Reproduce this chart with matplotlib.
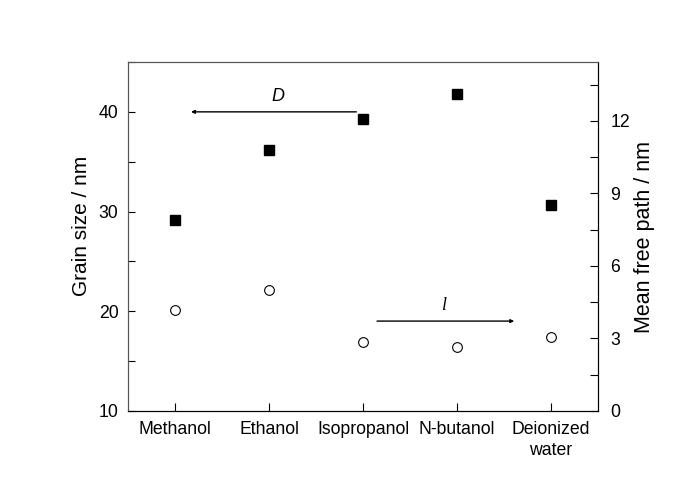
import matplotlib
matplotlib.use("Agg")
import matplotlib.pyplot as plt
from matplotlib.ticker import MultipleLocator

plt.rcParams['font.family'] = ['Liberation Sans', 'DejaVu Sans']

categories = ["Methanol", "Ethanol", "Isopropanol", "N-butanol", "Deionized\nwater"]
grain_size = [29.2, 36.2, 39.3, 41.8, 30.7]
mean_free_path = [4.18, 5.02, 2.84, 2.63, 3.05]

fig = plt.figure(figsize=(7.0, 4.98), dpi=100)
ax = fig.add_axes([0.183, 0.1747, 0.671, 0.7008])
ax2 = ax.twinx()

x = list(range(len(categories)))
ax.plot(x, grain_size, linestyle='none', marker='s', markersize=7,
        color='black', markeredgecolor='black')
ax2.plot(x, mean_free_path, linestyle='none', marker='o', markersize=7,
         markerfacecolor='white', markeredgecolor='black', markeredgewidth=0.8)

ax.set_xlim(-0.5, 4.5)
ax.set_ylim(10, 45)
ax2.set_ylim(0, 14.44)

ax.set_xticks(x)
ax.set_xticklabels(categories, fontsize=12.7, linespacing=1.3)
ax.yaxis.set_major_locator(MultipleLocator(10))
ax.yaxis.set_minor_locator(MultipleLocator(5))
ax2.yaxis.set_major_locator(MultipleLocator(3))
ax2.yaxis.set_minor_locator(MultipleLocator(1.5))

ax.tick_params(axis='both', which='both', direction='in', labelsize=12.7, width=0.8)
ax.tick_params(axis='y', which='both', length=5, pad=7)
ax.tick_params(axis='x', which='major', length=6, pad=7)
ax.tick_params(axis='x', which='minor', bottom=False)
ax2.tick_params(axis='y', which='both', direction='in', labelsize=12.7, width=0.8, length=6, pad=9)

ax.set_ylabel("Grain size / nm", fontsize=15)
ax.yaxis.set_label_coords(-0.08, 0.53)
ax2.set_ylabel("Mean free path / nm", fontsize=15.5, labelpad=3)

for a in (ax, ax2):
    for s in a.spines.values():
        s.set_linewidth(0.8)
ax.spines['left'].set_color('#555555')
ax.spines['top'].set_color('#555555')
ax2.spines['left'].set_color('#555555')
ax2.spines['top'].set_color('#555555')

# Annotations
ax.annotate("", xy=(0.17, 40.0), xytext=(1.93, 40.0),
            arrowprops=dict(arrowstyle='-|>', color='black', lw=1.0,
                            mutation_scale=5, shrinkA=0, shrinkB=0))
ax.text(1.09, 41.55, "D", fontsize=13, style='italic', ha='center', va='center')
ax2.annotate("", xy=(3.61, 3.72), xytext=(2.15, 3.72),
             arrowprops=dict(arrowstyle='-|>', color='black', lw=1.0,
                             mutation_scale=5, shrinkA=0, shrinkB=0))
ax2.text(2.86, 4.35, "l", fontsize=13, style='italic', ha='center', va='center',
         family=['Liberation Serif', 'DejaVu Serif'])

fig.savefig("out.png", dpi=100)
